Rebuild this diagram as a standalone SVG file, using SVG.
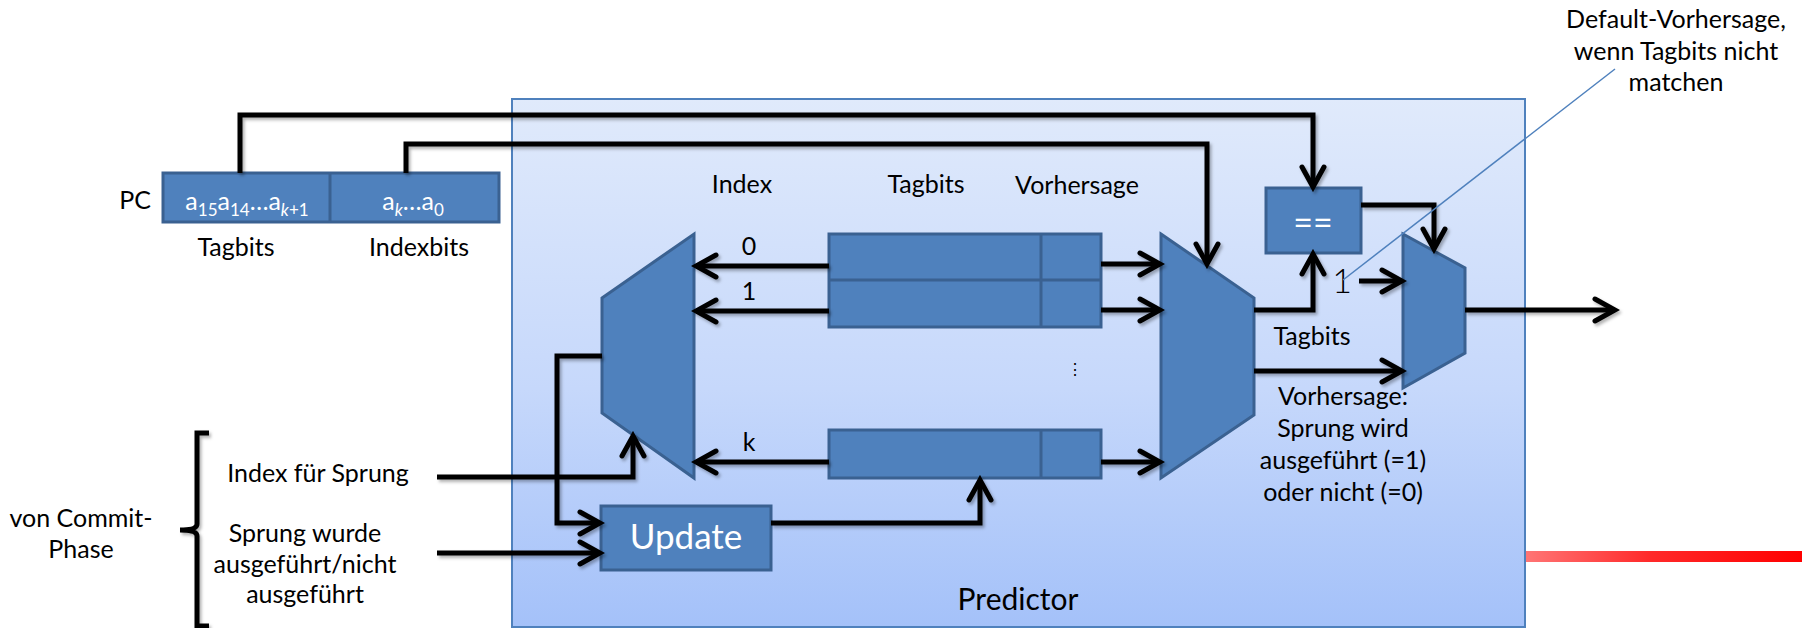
<svg xmlns="http://www.w3.org/2000/svg" width="1802" height="628" viewBox="0 0 1802 628">
<defs>
<linearGradient id="pg" x1="0" y1="0" x2="0" y2="1">
<stop offset="0" stop-color="#e0eafb"/>
<stop offset="0.55" stop-color="#c6d8fb"/>
<stop offset="1" stop-color="#a4c1f9"/>
</linearGradient>
<linearGradient id="rg" x1="0" y1="0" x2="1" y2="0">
<stop offset="0" stop-color="#ff7575"/>
<stop offset="0.45" stop-color="#ff2a2a"/>
<stop offset="1" stop-color="#ff0000"/>
</linearGradient>
<filter id="sh" x="-5%" y="-5%" width="110%" height="110%">
<feDropShadow dx="2" dy="2.5" stdDeviation="1.5" flood-color="#000" flood-opacity="0.3"/>
</filter>
<marker id="ar" markerUnits="userSpaceOnUse" markerWidth="30" markerHeight="30" viewBox="0 0 30 30" refX="25" refY="15" orient="auto">
<path d="M5,4 L25,15 L5,26" fill="none" stroke="#000" stroke-width="5" stroke-linecap="round" stroke-linejoin="miter"/>
</marker>
</defs>
<style>
.t{font-family:Lato,"Liberation Sans",sans-serif;font-size:25px;fill:#000;text-anchor:middle}
.w{font-family:Lato,"Liberation Sans",sans-serif;fill:#fff;text-anchor:middle}
.blk{fill:#4f81bd;stroke:#3a6191;stroke-width:3}
.c{fill:none;stroke:#000;stroke-width:5;stroke-linejoin:miter}
.a{marker-end:url(#ar)}
</style>

<g id="predictor">
<rect x="512" y="99" width="1013" height="528" fill="url(#pg)" stroke="#4f81bd" stroke-width="2"/>
<text class="t" x="1018" y="610" style="font-size:30px">Predictor</text>
</g>

<rect id="redbar" x="1526" y="551" width="276" height="11" fill="url(#rg)"/>

<g id="pc">
<text class="t" x="151" y="209" style="text-anchor:end">PC</text>
<rect class="blk" x="163" y="173" width="336" height="49"/>
<line x1="330" y1="173" x2="330" y2="222" stroke="#3a6191" stroke-width="3"/>
<text class="w" x="247" y="210" style="font-size:25px">a<tspan font-size="17" dy="6">15</tspan><tspan dy="-6">a</tspan><tspan font-size="17" dy="6">14</tspan><tspan dy="-6">…a</tspan><tspan font-size="17" dy="6" font-style="italic">k</tspan><tspan font-size="17">+1</tspan></text>
<text class="w" x="413" y="210" style="font-size:25px">a<tspan font-size="17" dy="6" font-style="italic">k</tspan><tspan dy="-6">…a</tspan><tspan font-size="17" dy="6">0</tspan></text>
<text class="t" x="236" y="256">Tagbits</text>
<text class="t" x="419" y="256">Indexbits</text>
</g>

<g id="mux-left">
<polygon class="blk" points="602,298 694,234 694,478 602,413"/>
</g>

<g id="table">
<rect class="blk" x="829" y="234" width="272" height="93"/>
<line x1="829" y1="280" x2="1101" y2="280" stroke="#3a6191" stroke-width="3"/>
<line x1="1041" y1="234" x2="1041" y2="327" stroke="#3a6191" stroke-width="3"/>
<rect class="blk" x="829" y="430" width="272" height="48"/>
<line x1="1041" y1="430" x2="1041" y2="478" stroke="#3a6191" stroke-width="3"/>
<text class="t" x="742" y="193">Index</text>
<text class="t" x="926" y="193">Tagbits</text>
<text class="t" x="1077" y="194">Vorhersage</text>
<text class="t" x="749" y="255">0</text>
<text class="t" x="749" y="300">1</text>
<text class="t" x="749" y="451">k</text>
<text class="t" x="1075" y="375" style="font-size:16px">⋮</text>
</g>

<g id="mux-right">
<polygon class="blk" points="1161,234 1254,298 1254,415 1161,478"/>
</g>

<g id="compare">
<rect class="blk" x="1266" y="188" width="95" height="65"/>
<text class="w" x="1313" y="235" style="font-size:34px">==</text>
</g>

<g id="mux-out">
<polygon class="blk" points="1403,234 1465,268 1465,353 1403,388"/>
</g>

<g id="update">
<rect class="blk" x="601" y="506" width="170" height="64"/>
<text class="w" x="686" y="549" style="font-size:35px">Update</text>
</g>

<g id="labels">
<text class="t" x="1342" y="293" style="font-size:34px;font-weight:300">1</text>
<text class="t" x="1312" y="345">Tagbits</text>
<text class="t" x="1343" y="405">Vorhersage:</text>
<text class="t" x="1343" y="437">Sprung wird</text>
<text class="t" x="1343" y="469">ausgeführt (=1)</text>
<text class="t" x="1343" y="501">oder nicht (=0)</text>
<text class="t" x="1676" y="28">Default-Vorhersage,</text>
<text class="t" x="1676" y="60">wenn Tagbits nicht</text>
<text class="t" x="1676" y="91">matchen</text>
<text class="t" x="318" y="482">Index für Sprung</text>
<text class="t" x="305" y="542">Sprung wurde</text>
<text class="t" x="305" y="573">ausgeführt/nicht</text>
<text class="t" x="305" y="603">ausgeführt</text>
<text class="t" x="81" y="527">von Commit-</text>
<text class="t" x="81" y="558">Phase</text>
</g>

<g id="connectors" filter="url(#sh)">
<path class="c a" d="M240,173 V115 H1313 V187"/>
<path class="c a" d="M406,173 V144 H1207 V264"/>
<path class="c a" d="M829,266 H696"/>
<path class="c a" d="M829,311 H696"/>
<path class="c a" d="M829,462 H696"/>
<path class="c a" d="M1101,264 H1160"/>
<path class="c a" d="M1101,310 H1160"/>
<path class="c a" d="M1101,462 H1160"/>
<path class="c a" d="M602,356 H557 V523 H600"/>
<path class="c a" d="M437,477 H633 V436"/>
<path class="c a" d="M437,553 H600"/>
<path class="c a" d="M771,523 H980 V480"/>
<path class="c a" d="M1254,310 H1313 V254"/>
<path class="c a" d="M1359,281 H1402"/>
<path class="c a" d="M1361,205 H1434 V249"/>
<path class="c a" d="M1254,371 H1402"/>
<path class="c a" d="M1465,310 H1615"/>
<path class="c" d="M209,433 H197 V524 Q197,530 180,530 Q197,530 197,536 V626 H209"/>
</g>

<line id="callout" x1="1343" y1="280" x2="1615" y2="69" stroke="#4f81bd" stroke-width="1.5"/>
</svg>
